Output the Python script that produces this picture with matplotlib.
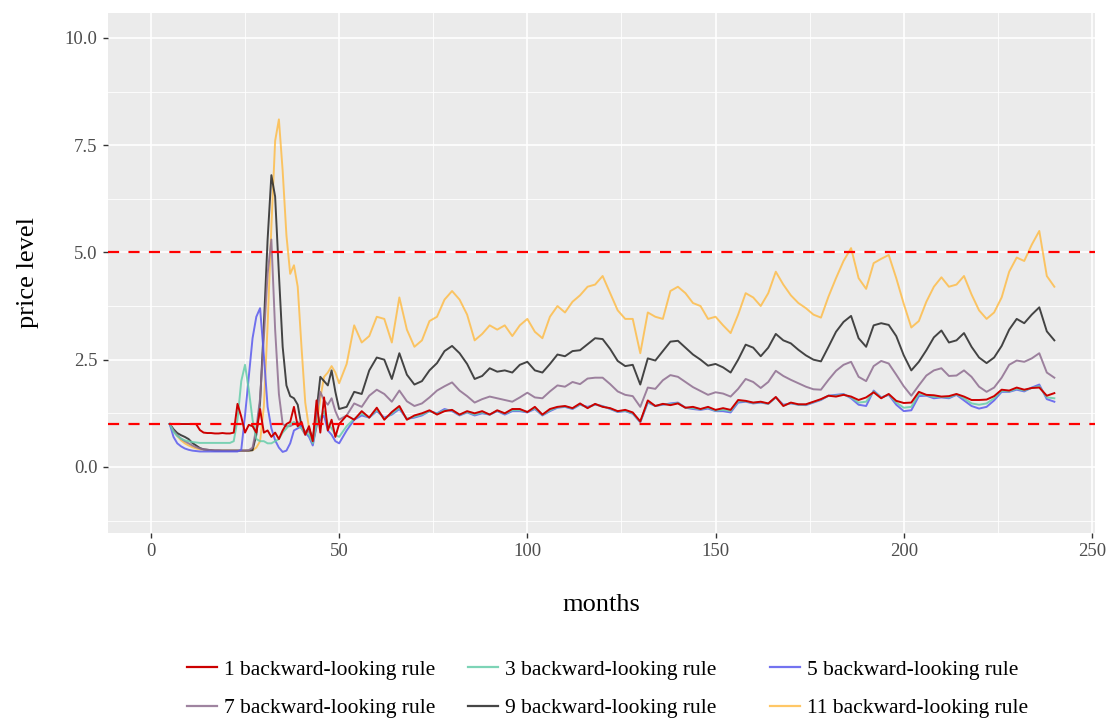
import matplotlib
matplotlib.use("Agg")
import matplotlib.pyplot as plt
from matplotlib.lines import Line2D
from matplotlib.ticker import FixedLocator, FormatStrFormatter

# ---------------- data ----------------
months_early = list(range(5, 51))
months_late = list(range(52, 241, 2))
months = months_early + months_late

rule11 = [1.0, 0.85, 0.72, 0.62, 0.55, 0.5, 0.46, 0.43, 0.41, 0.40,
          0.39, 0.39, 0.38, 0.38, 0.38, 0.38, 0.38, 0.38, 0.38, 0.38,
          0.38, 0.38, 0.39, 0.45, 0.6, 1.4, 3.3, 5.6, 7.6, 8.1,
          6.9, 5.4, 4.5, 4.7, 4.2, 2.8, 1.5, 0.9, 0.55, 0.95,
          1.6, 2.1, 2.2, 2.35, 2.2, 1.95,
          2.4, 3.3, 2.9, 3.05, 3.5, 3.45, 2.9, 3.95, 3.2, 2.8,
          2.95, 3.4, 3.5, 3.9, 4.1, 3.9, 3.55, 2.95, 3.1, 3.3,
          3.2, 3.3, 3.05, 3.3, 3.45, 3.15, 3.0, 3.5, 3.75, 3.6,
          3.85, 4.0, 4.2, 4.25, 4.45, 4.05, 3.65, 3.45, 3.45, 2.65,
          3.6, 3.5, 3.45, 4.1, 4.2, 4.05, 3.82, 3.75, 3.45, 3.5,
          3.3, 3.12, 3.55, 4.05, 3.95, 3.75, 4.05, 4.55, 4.25, 4.0,
          3.82, 3.7, 3.55, 3.48, 3.97, 4.4, 4.8, 5.1, 4.4, 4.15,
          4.75, 4.85, 4.94, 4.4, 3.8, 3.25, 3.4, 3.85, 4.2, 4.42,
          4.2, 4.25, 4.45, 4.02, 3.65, 3.45, 3.6, 3.95, 4.55, 4.88,
          4.8, 5.18, 5.5, 4.45, 4.2]

rule9 = [1.0, 0.88, 0.79, 0.74, 0.7, 0.65, 0.56, 0.5, 0.44, 0.41,
         0.4, 0.39, 0.38, 0.38, 0.38, 0.38, 0.38, 0.38, 0.38, 0.38,
         0.38, 0.38, 0.39, 0.75, 1.5, 3.3, 5.3, 6.8, 6.3, 4.5,
         2.8, 1.9, 1.65, 1.6, 1.45, 0.95, 0.8, 0.9, 0.62, 1.3,
         2.1, 2.0, 1.9, 2.25, 1.75, 1.35,
         1.4, 1.75, 1.7, 2.25, 2.55, 2.5, 2.05, 2.65, 2.15, 1.92,
         2.0, 2.25, 2.42, 2.7, 2.82, 2.65, 2.4, 2.05, 2.12, 2.3,
         2.22, 2.25, 2.2, 2.38, 2.45, 2.25, 2.2, 2.4, 2.62, 2.58,
         2.7, 2.72, 2.86, 3.0, 2.98, 2.75, 2.47, 2.35, 2.38, 1.92,
         2.53, 2.48, 2.7, 2.92, 2.94, 2.78, 2.62, 2.5, 2.36, 2.4,
         2.32, 2.2, 2.5, 2.85, 2.78, 2.58, 2.78, 3.1, 2.95, 2.88,
         2.73, 2.6, 2.5, 2.46, 2.8, 3.15, 3.38, 3.52, 3.0, 2.8,
         3.3, 3.35, 3.31, 3.05, 2.6, 2.25, 2.45, 2.72, 3.02, 3.18,
         2.9, 2.95, 3.12, 2.8, 2.55, 2.42, 2.55, 2.82, 3.2, 3.45,
         3.35, 3.55, 3.72, 3.16, 2.95]

rule7 = [1.0, 0.85, 0.74, 0.66, 0.6, 0.55, 0.5, 0.46, 0.43, 0.41,
         0.4, 0.39, 0.39, 0.39, 0.38, 0.38, 0.38, 0.38, 0.38, 0.38,
         0.38, 0.39, 0.45, 0.9, 1.6, 3.0, 4.5, 5.3, 3.2, 1.7,
         1.0, 0.95, 0.95, 1.0, 1.05, 0.9, 0.75, 0.85, 0.6, 1.2,
         1.75, 1.55, 1.45, 1.6, 1.3, 1.1,
         1.2, 1.48, 1.4, 1.66, 1.8, 1.7, 1.52, 1.78, 1.53, 1.42,
         1.48, 1.62, 1.78, 1.88, 1.97, 1.78, 1.65, 1.5, 1.58, 1.64,
         1.6, 1.56, 1.52, 1.62, 1.73, 1.62, 1.6, 1.76, 1.9, 1.87,
         1.98, 1.93, 2.06, 2.08, 2.08, 1.93, 1.76, 1.68, 1.65, 1.4,
         1.85, 1.82, 2.02, 2.14, 2.1, 1.98, 1.86, 1.77, 1.68, 1.74,
         1.71, 1.64, 1.82, 2.05, 1.98, 1.84, 1.98, 2.24, 2.12, 2.03,
         1.95, 1.87, 1.81, 1.8, 2.03, 2.24, 2.38, 2.45, 2.1, 2.0,
         2.35, 2.47, 2.41, 2.15, 1.88, 1.66, 1.9, 2.13, 2.25, 2.3,
         2.12, 2.13, 2.25, 2.1, 1.87, 1.75, 1.85, 2.08, 2.38, 2.48,
         2.45, 2.53, 2.65, 2.2, 2.08]

rule5 = [1.0, 0.7, 0.55, 0.48, 0.43, 0.4, 0.38, 0.37, 0.36, 0.36,
         0.36, 0.36, 0.36, 0.36, 0.36, 0.36, 0.36, 0.36, 0.36, 0.4,
         1.2, 2.1, 3.0, 3.5, 3.7, 2.6, 1.4, 0.9, 0.62, 0.45,
         0.35, 0.38, 0.55, 0.85, 0.9, 0.95, 0.8, 0.7, 0.5, 0.95,
         1.1, 1.2, 0.85, 0.75, 0.6, 0.55,
         0.85, 1.1, 1.2, 1.15, 1.3, 1.15, 1.22, 1.35, 1.12, 1.15,
         1.2, 1.3, 1.25, 1.35, 1.3, 1.2, 1.27, 1.2, 1.25, 1.22,
         1.3, 1.22, 1.3, 1.3, 1.27, 1.35, 1.2, 1.3, 1.38, 1.4,
         1.35, 1.45, 1.4, 1.45, 1.42, 1.35, 1.28, 1.3, 1.24, 1.04,
         1.5, 1.42, 1.45, 1.48, 1.5, 1.38, 1.35, 1.33, 1.36, 1.3,
         1.3, 1.27, 1.5, 1.52, 1.48, 1.5, 1.47, 1.62, 1.45, 1.48,
         1.45, 1.44, 1.5, 1.56, 1.66, 1.68, 1.7, 1.6, 1.45, 1.42,
         1.78, 1.62, 1.68, 1.45, 1.3, 1.32, 1.65, 1.66, 1.6, 1.62,
         1.6, 1.68, 1.55, 1.42, 1.36, 1.4, 1.55, 1.75, 1.75, 1.8,
         1.76, 1.85, 1.92, 1.58, 1.52]

rule3 = [1.0, 0.82, 0.72, 0.66, 0.62, 0.6, 0.58, 0.57, 0.56, 0.56,
         0.56, 0.56, 0.56, 0.56, 0.56, 0.56, 0.56, 0.6, 1.1, 2.0,
         2.38, 1.8, 1.1, 0.65, 0.6, 0.6, 0.55, 0.55, 0.6, 0.65,
         0.8, 0.9, 1.0, 1.05, 0.95, 0.9, 0.8, 0.75, 0.55, 1.0,
         1.15, 1.3, 1.0, 0.9, 0.75, 0.7,
         0.95, 1.12, 1.24, 1.15, 1.33, 1.12, 1.24, 1.38, 1.12, 1.17,
         1.22, 1.3, 1.24, 1.32, 1.32, 1.21, 1.28, 1.22, 1.27, 1.22,
         1.31, 1.24, 1.32, 1.32, 1.28, 1.37, 1.21, 1.32, 1.39, 1.41,
         1.36, 1.46, 1.38, 1.46, 1.41, 1.36, 1.29, 1.31, 1.25, 1.05,
         1.52, 1.42, 1.46, 1.46, 1.49, 1.38, 1.37, 1.34, 1.38, 1.31,
         1.33, 1.3, 1.53, 1.53, 1.49, 1.51, 1.47, 1.62, 1.43, 1.49,
         1.45, 1.45, 1.51, 1.57, 1.66, 1.66, 1.69, 1.62, 1.5, 1.52,
         1.76, 1.61, 1.69, 1.5, 1.38, 1.4, 1.7, 1.67, 1.63, 1.63,
         1.62, 1.69, 1.6, 1.48, 1.45, 1.48, 1.6, 1.77, 1.76, 1.82,
         1.78, 1.84, 1.88, 1.62, 1.6]

rule1 = [1.0, 1.0, 1.0, 1.0, 1.0, 1.0, 1.0, 1.0, 0.86, 0.8,
         0.79, 0.79, 0.78, 0.78, 0.79, 0.78, 0.78, 0.8, 1.47, 1.17,
         0.8, 0.98, 0.95, 0.8, 1.35, 0.8, 0.85, 0.7, 0.8, 0.65,
         0.85, 1.0, 1.05, 1.4, 0.95, 1.05, 0.75, 0.95, 0.6, 1.55,
         0.8, 1.62, 0.85, 1.1, 0.7, 1.0,
         1.2, 1.1, 1.3, 1.15, 1.38, 1.1, 1.28, 1.42, 1.1, 1.2,
         1.25, 1.32, 1.22, 1.3, 1.33, 1.22, 1.3, 1.25, 1.3, 1.22,
         1.32, 1.25, 1.35, 1.35, 1.28, 1.4, 1.22, 1.35, 1.4, 1.42,
         1.37, 1.48, 1.37, 1.47, 1.4, 1.37, 1.3, 1.33, 1.27, 1.06,
         1.55, 1.42, 1.47, 1.44, 1.48, 1.38, 1.4, 1.35, 1.4, 1.33,
         1.37, 1.33, 1.56, 1.54, 1.5, 1.52, 1.48, 1.63, 1.42, 1.5,
         1.46, 1.46, 1.52, 1.58, 1.66, 1.64, 1.68, 1.64, 1.56, 1.62,
         1.74, 1.6, 1.7, 1.54, 1.49, 1.5, 1.75, 1.68, 1.67, 1.64,
         1.65, 1.7, 1.64, 1.56, 1.56, 1.57, 1.65, 1.8, 1.78, 1.85,
         1.8, 1.84, 1.85, 1.66, 1.72]

labels = ["1 backward-looking rule", "3 backward-looking rule",
          "5 backward-looking rule", "7 backward-looking rule",
          "9 backward-looking rule", "11 backward-looking rule"]
series = [rule1, rule3, rule5, rule7, rule9, rule11]
ref_levels = [1.0, 5.0]

x_ticks = [0, 50, 100, 150, 200, 250]
y_ticks = [0.0, 2.5, 5.0, 7.5, 10.0]

# ---------------- style ----------------
colors = ["#CC0000", "#66CDAA", "#5A5AEE", "#8E6E90", "#262626", "#FFBA40"]
alphas = [1.0, 0.85, 0.85, 0.85, 0.85, 0.8]

plt.rcParams['font.family'] = ['Liberation Serif', 'DejaVu Serif']

W, H = 1111, 718
fig = plt.figure(figsize=(W / 100, H / 100), dpi=100)
left, right, top, bottom = 108, 1095, 13, 533
ax = fig.add_axes([left / W, 1 - bottom / H, (right - left) / W, (bottom - top) / H])
ax.set_facecolor("#EBEBEB")
for s in ax.spines.values():
    s.set_visible(False)

ax.set_xlim(-11.4, 250.8)
ax.set_ylim(-1.54, 10.58)
ax.xaxis.set_major_locator(FixedLocator(x_ticks))
ax.xaxis.set_minor_locator(FixedLocator([25, 75, 125, 175, 225]))
ax.yaxis.set_major_locator(FixedLocator(y_ticks))
ax.yaxis.set_minor_locator(FixedLocator([-1.25, 1.25, 3.75, 6.25, 8.75]))
ax.yaxis.set_major_formatter(FormatStrFormatter("%.1f"))
ax.grid(which="major", color="white", linewidth=1.2)
ax.grid(which="minor", color="white", linewidth=0.6)
ax.set_axisbelow(True)
ax.tick_params(which="major", length=3.5, width=1.0, color="#333333",
               labelcolor="#4D4D4D", labelsize=13.5, pad=4)
ax.tick_params(which="minor", length=0)

order = [5, 4, 3, 2, 1, 0]
for z, i in enumerate(order):
    ax.plot(months, series[i], color=colors[i], alpha=alphas[i],
            linewidth=1.4, zorder=2 + z, label=labels[i])

for lv in ref_levels:
    ax.axhline(lv, color="#FF0000", linewidth=1.6, dashes=(5, 4.2), zorder=10)

ax.set_xlabel("months", fontsize=19, color="black")
ax.xaxis.set_label_coords(0.5, -(605 - bottom) / (bottom - top))
ax.xaxis.label.set_va("center")
ax.set_ylabel("price level", fontsize=19, color="black")
ax.yaxis.set_label_coords(-(left - 28) / (right - left), 0.5)
ax.yaxis.label.set_va("center")

# legend: three columns placed at the reference positions
col_groups = [[0, 3], [1, 4], [2, 5]]
col_x = [187, 468, 770]
for grp, cx in zip(col_groups, col_x):
    hs = [Line2D([], [], color=colors[i], alpha=alphas[i], linewidth=1.6) for i in grp]
    ls = [labels[i] for i in grp]
    fig.legend(hs, ls, loc="center left", bbox_to_anchor=(cx / W, 1 - 689 / H),
               frameon=False, fontsize=15.5, handlelength=1.4,
               handletextpad=0.3, labelspacing=0.85, borderpad=0,
               borderaxespad=0)

fig.savefig("out.png", dpi=100, facecolor="white")
